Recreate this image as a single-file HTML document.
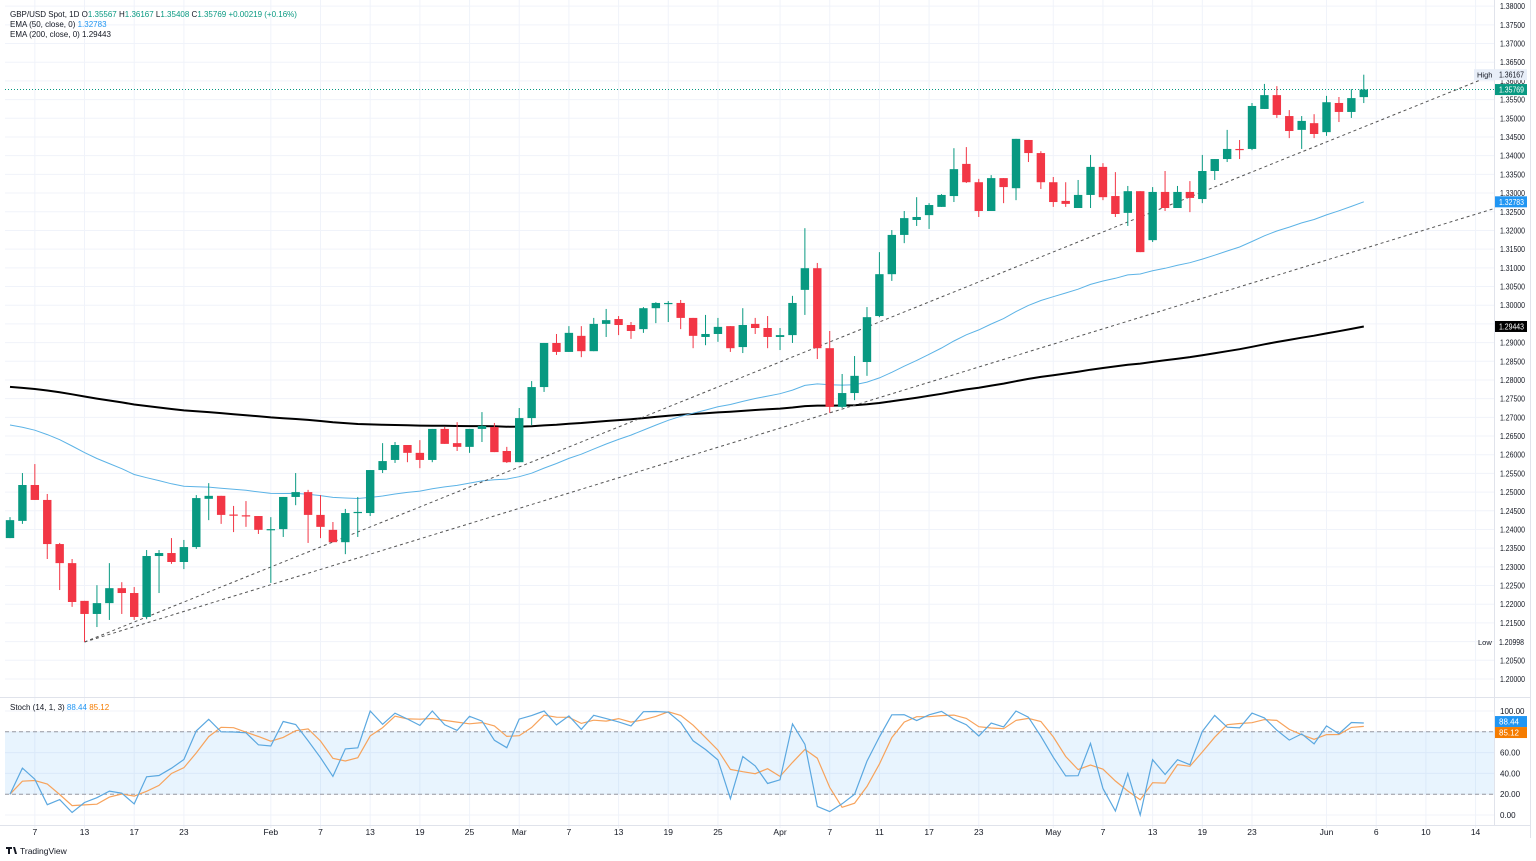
<!DOCTYPE html>
<html><head><meta charset="utf-8"><style>
html,body{margin:0;padding:0;background:#fff;}
svg{display:block;font-family:"Liberation Sans",sans-serif;}
</style></head><body>
<svg id="chart" width="1536" height="861" viewBox="0 0 1536 861" xmlns="http://www.w3.org/2000/svg">
<rect x="0" y="0" width="1536" height="861" fill="#ffffff"/>
<g id="grid"></g>
<rect id="band" x="5" y="0" width="1489" height="0" fill="#2196f3" fill-opacity="0.1"/>
<g id="marks"></g>
<g id="axes"></g>
<g font-size="8" fill="#131722">
<text x="10" y="17">GBP/USD Spot, 1D <tspan fill="#131722">O</tspan><tspan fill="#089981">1.35567</tspan> <tspan>H</tspan><tspan fill="#089981">1.36167</tspan> <tspan>L</tspan><tspan fill="#089981">1.35408</tspan> <tspan>C</tspan><tspan fill="#089981">1.35769 +0.00219 (+0.16%)</tspan></text>
<text x="10" y="27">EMA (50, close, 0) <tspan fill="#2196f3">1.32783</tspan></text>
<text x="10" y="37">EMA (200, close, 0) <tspan fill="#131722">1.29443</tspan></text>
<text x="10" y="710">Stoch (14, 1, 3) <tspan fill="#2196f3">88.44</tspan> <tspan fill="#f57c00">85.12</tspan></text>
</g>
<g>
<path d="M6 847 h6 v2 h-2 v5 h-2 v-5 h-2 z M13 847 h2 l2 7 h-2 z" fill="#131722"/>
<text x="20" y="854" font-size="8.5" fill="#131722">TradingView</text>
</g>
</svg>
<script>
const opens=[1.2377,1.2423,1.2519,1.2479,1.2361,1.2310,1.2209,1.2174,1.2203,1.2243,
1.2230,1.2166,1.2329,1.2337,1.2313,1.2353,1.2482,1.2490,1.2440,1.2438,
1.2436,1.2399,1.2401,1.2487,1.2500,1.2439,1.2399,1.2366,1.2444,1.2444,
1.2559,1.2586,1.2626,1.2605,1.2586,1.2669,1.2631,1.2621,1.2669,1.2674,
1.2610,1.2580,1.2698,1.2781,1.2899,1.2875,1.2918,1.2877,1.2950,1.2963,
1.2947,1.2936,1.2992,1.3003,1.3006,1.2966,1.2915,1.2923,1.2944,1.2888,
1.2950,1.2939,1.2915,1.2920,1.3041,1.3099,1.2885,1.2728,1.2765,1.2848,
1.2971,1.3083,1.3188,1.3228,1.3241,1.3263,1.3292,1.3378,1.3329,1.3252,
1.3340,1.3313,1.3442,1.3407,1.3329,1.3279,1.3260,1.3295,1.3370,1.3292,
1.3247,1.3305,1.3174,1.3303,1.3260,1.3303,1.3284,1.3359,1.3391,1.3418,
1.3418,1.3525,1.3562,1.3506,1.3469,1.3487,1.3463,1.3541,1.3517,1.35567];
const highs=[1.2433,1.2551,1.2575,1.2495,1.2364,1.2321,1.2209,1.2251,1.2310,1.2259,
1.2246,1.2345,1.2345,1.2377,1.2372,1.2492,1.2524,1.2490,1.2463,1.2476,
1.2436,1.2433,1.2487,1.2551,1.2506,1.2492,1.2420,1.2455,1.2487,1.2559,
1.2631,1.2634,1.2626,1.2639,1.2669,1.2674,1.2687,1.2669,1.2714,1.2685,
1.2621,1.2725,1.2797,1.2899,1.2923,1.2944,1.2944,1.2966,1.2990,1.2971,
1.2955,1.2995,1.3008,1.3011,1.3014,1.2966,1.2974,1.2966,1.2944,1.2992,
1.2966,1.2971,1.2939,1.3025,1.3206,1.3113,1.2931,1.2816,1.2864,1.2995,
1.3142,1.3201,1.3252,1.3289,1.3273,1.3297,1.3420,1.3423,1.3338,1.3348,
1.3340,1.3445,1.3442,1.3412,1.3343,1.3329,1.3335,1.3402,1.3380,1.3356,
1.3319,1.3305,1.3316,1.3359,1.3319,1.3332,1.3402,1.3391,1.3469,1.3442,
1.3541,1.3592,1.3586,1.3522,1.3506,1.3511,1.3560,1.3557,1.3578,1.36167];
const lows=[1.2377,1.2415,1.2479,1.2321,1.2238,1.2193,1.2099,1.2139,1.2158,1.2174,
1.2158,1.2160,1.2230,1.2308,1.2294,1.2348,1.2425,1.2415,1.2393,1.2407,
1.2388,1.2257,1.2380,1.2465,1.2364,1.2377,1.2366,1.2334,1.2380,1.2436,
1.2551,1.2578,1.2580,1.2564,1.2580,1.2629,1.2610,1.2605,1.2634,1.2607,
1.2578,1.2580,1.2679,1.2768,1.2867,1.2875,1.2861,1.2877,1.2915,1.2920,
1.2910,1.2926,1.2952,1.2955,1.2936,1.2885,1.2893,1.2902,1.2875,1.2872,
1.2923,1.2885,1.2880,1.2899,1.2974,1.2856,1.2712,1.2725,1.2746,1.2811,
1.2968,1.3065,1.3166,1.3212,1.3204,1.3263,1.3276,1.3327,1.3236,1.3252,
1.3273,1.3281,1.3383,1.3311,1.3263,1.3263,1.3260,1.3260,1.3281,1.3236,
1.3212,1.3142,1.3169,1.3252,1.3260,1.3249,1.3273,1.3335,1.3383,1.3391,
1.3415,1.3525,1.3501,1.3447,1.3418,1.3447,1.3453,1.3490,1.3501,1.35408];
const closes=[1.2425,1.2519,1.2479,1.2361,1.2310,1.2206,1.2174,1.2203,1.2243,1.2230,
1.2166,1.2329,1.2337,1.2313,1.2353,1.2484,1.2490,1.2439,1.2438,1.2435,
1.2399,1.2401,1.2487,1.2500,1.2439,1.2407,1.2366,1.2444,1.2447,1.2559,
1.2583,1.2626,1.2605,1.2586,1.2669,1.2629,1.2621,1.2669,1.2677,1.2607,
1.2580,1.2698,1.2781,1.2899,1.2875,1.2926,1.2877,1.2950,1.2960,1.2947,
1.2931,1.2992,1.3006,1.3006,1.2966,1.2918,1.2923,1.2942,1.2885,1.2947,
1.2939,1.2915,1.2920,1.3006,1.3099,1.2885,1.2728,1.2765,1.2811,1.2968,
1.3083,1.3188,1.3233,1.3236,1.3268,1.3295,1.3364,1.3329,1.3252,1.3340,
1.3316,1.3445,1.3407,1.3329,1.3276,1.3271,1.3295,1.3370,1.3289,1.3244,
1.3305,1.3142,1.3303,1.3260,1.3303,1.3287,1.3359,1.3391,1.3418,1.3416,
1.3533,1.3562,1.3509,1.3466,1.3493,1.3458,1.3543,1.3517,1.3554,1.35769];
const ema50Seed=1.2690;
const ema200Seed=1.2785;
const priorHigh=1.2725;
const priorLow=1.2350;
const dateTickIdx=[2,6,10,14,21,25,29,33,37,41,45,49,53,57,62,66,70,74,78,84,88,92,96,100,106,110,114,118];
const dateTickLabels=["7","13","17","23","Feb","7","13","19","25","Mar","7","13","19","25","Apr","7","11","17","23","May","7","13","19","23","Jun","6","10","14"];
const emaLabels=["1.32783","1.29443"];
const extremeLabels=["1.36167","1.20998"];
const stochLabels=["88.44","85.12"];

const NS="http://www.w3.org/2000/svg";
const PL=5, PR=1494, PT=0, PB=697, SB=838;
const xB=i=>10+i*12.42;
const yP=p=>679-(p-1.2)/0.005*18.69;
const yS=v=>815-v*1.04;
function mk(tag,attrs,parent){const e=document.createElementNS(NS,tag);for(const k in attrs)e.setAttribute(k,attrs[k]);parent.appendChild(e);return e;}
const grid=document.getElementById('grid'), marks=document.getElementById('marks'), axes=document.getElementById('axes');

for(let k=0;k<=36;k++){const p=1.2+k*0.005;const y=yP(p);
  const l=mk('line',{x1:PL,x2:PR,y1:y,y2:y,stroke:'#f0f3fa','stroke-width':1},grid);
  
  
}
[0,20,40,60,80,100].forEach(v=>{const y=yS(v);
  const l=mk('line',{x1:PL,x2:PR,y1:y,y2:y,stroke:'#f0f3fa'},grid);
  
  
});
dateTickIdx.forEach((ix,j)=>{const x=xB(ix);
  const l=mk('line',{x1:x,x2:x,y1:PT,y2:SB-10,stroke:'#f0f3fa'},grid);
  
  
  const t=mk('text',{x:x,y:835,'font-size':8.5,'text-anchor':'middle',fill:'#131722'},axes);
  t.textContent=dateTickLabels[j];
  
  
});
mk('line',{x1:0,x2:1530,y1:PB+0.5,y2:PB+0.5,stroke:'#e0e3eb'},grid);
mk('line',{x1:0,x2:1530,y1:SB-12.5,y2:SB-12.5,stroke:'#e0e3eb'},grid);
mk('line',{x1:PR+0.5,x2:PR+0.5,y1:0,y2:SB-12,stroke:'#e0e3eb'},grid);
mk('line',{x1:1530.5,x2:1530.5,y1:0,y2:SB,stroke:'#e0e3eb'},grid);

const band=document.getElementById('band');band.setAttribute('y',yS(80));band.setAttribute('height',yS(20)-yS(80));
[80,20].forEach(v=>{const l=mk('line',{x1:PL,x2:PR,y1:yS(v),y2:yS(v),stroke:'#9598a1','stroke-dasharray':'4 3'},marks);
  
  });

let e50=ema50Seed,e200=ema200Seed;const ema50=[],ema200=[];
closes.forEach(c=>{e50=e50+(c-e50)*2/51;e200=e200+(c-e200)*2/201;ema50.push(e50);ema200.push(e200);});
const path=(arr,f)=>arr.map((v,i)=>(i?'L':'M')+xB(i).toFixed(1)+' '+f(v).toFixed(1)).join(' ');
const p200=mk('path',{d:path(ema200,yP),fill:'none',stroke:'#000','stroke-width':2},marks);


const p50=mk('path',{d:path(ema50,yP),fill:'none',stroke:'#5cb3e6','stroke-width':1},marks);



const li=6;
function trend(i0,p0,i1,p1,name){const x0=xB(i0),y0=yP(p0),x1=xB(i1),y1=yP(p1);const s=(y1-y0)/(x1-x0);
  const l=mk('line',{x1:x0,y1:y0,x2:PR,y2:y0+s*(PR-x0),stroke:'#555','stroke-width':1,'stroke-dasharray':'3 3'},marks);
  
  }
trend(li,lows[li],104,lows[104]-0.0008,'upper-trendline');
trend(li,lows[li],66,lows[66],'lower-trendline');

const cy=yP(closes[closes.length-1]);
const cl=mk('line',{x1:PL,x2:PR,y1:cy,y2:cy,stroke:'#089981','stroke-width':1,'stroke-dasharray':'1 2'},marks);



for(let i=0;i<closes.length;i++){
  const up=closes[i]>=opens[i];const col=up?'#089981':'#f23645';const x=xB(i);
  const g=mk('g',{},marks);
  
  
  mk('line',{x1:x,x2:x,y1:yP(highs[i]),y2:yP(lows[i]),stroke:col,'stroke-width':1},g);
  const t=Math.min(yP(opens[i]),yP(closes[i]));const h=Math.max(1.2,Math.abs(yP(opens[i])-yP(closes[i])));
  mk('rect',{x:x-4.2,y:t,width:8.4,height:h,fill:col},g);
}

const K=[],D=[];
for(let i=0;i<closes.length;i++){let hh=-1,ll=9;for(let j=i-13;j<=i;j++){if(j<0){hh=Math.max(hh,priorHigh);ll=Math.min(ll,priorLow);}else{hh=Math.max(hh,highs[j]);ll=Math.min(ll,lows[j]);}}
  K.push(100*(closes[i]-ll)/(hh-ll));const a=K.slice(Math.max(0,i-2),i+1);D.push(a.reduce((s,v)=>s+v,0)/a.length);}
const pd=mk('path',{d:path(D,yS),fill:'none',stroke:'#f7a35c','stroke-width':1.2},marks);


const pk=mk('path',{d:path(K,yS),fill:'none',stroke:'#5ba8e0','stroke-width':1.2},marks);



for(let k=0;k<=36;k++){const p=1.2+k*0.005;const t=mk('text',{x:1500,y:yP(p)+3,'font-size':8,fill:'#131722',textLength:25,lengthAdjust:'spacingAndGlyphs'},axes);
  t.textContent=p.toFixed(5);
  
  }
[0,20,40,60,80,100].forEach(v=>{const t=mk('text',{x:1500,y:yS(v)+3,'font-size':8,fill:'#131722'},axes);
  t.textContent=v.toFixed(2);
  
  });
function box(y,txt,bg,fg,name){const g=mk('g',{},axes);
  
  
  mk('rect',{x:1495,y:y-5.5,width:32,height:11,fill:bg},g);
  const t=mk('text',{x:1499,y:y+3,'font-size':8,fill:fg,textLength:txt.length>5?25:20,lengthAdjust:'spacingAndGlyphs'},g);t.textContent=txt;}
const hi=Math.max(...highs), lo=Math.min(...lows);
box(yP(hi),extremeLabels[0],'#e8eef8','#131722','high-price-label');
const hl=mk('g',{},axes);


mk('rect',{x:1474,y:yP(hi)-5.5,width:21,height:11,fill:'#e8eef8'},hl);
mk('text',{x:1477,y:yP(hi)+3,'font-size':7.5,fill:'#131722'},hl).textContent='High';
box(cy,closes[closes.length-1].toFixed(5),'#089981','#fff','last-price-label');
box(yP(ema50[ema50.length-1]),emaLabels[0],'#2196f3','#fff','ema50-price-label');
box(yP(ema200[ema200.length-1]),emaLabels[1],'#000','#fff','ema200-price-label');
box(yP(lo),extremeLabels[1],'#ffffff','#131722','low-price-label');
const ll2=mk('g',{},axes);


mk('text',{x:1478,y:yP(lo)+3,'font-size':7.5,fill:'#131722'},ll2).textContent='Low';
box(yS(K[K.length-1])-1.5,stochLabels[0],'#2196f3','#fff','stoch-k-label');
box(yS(K[K.length-1])+9.5,stochLabels[1],'#f57c00','#fff','stoch-d-label');
</script>
</body></html>
